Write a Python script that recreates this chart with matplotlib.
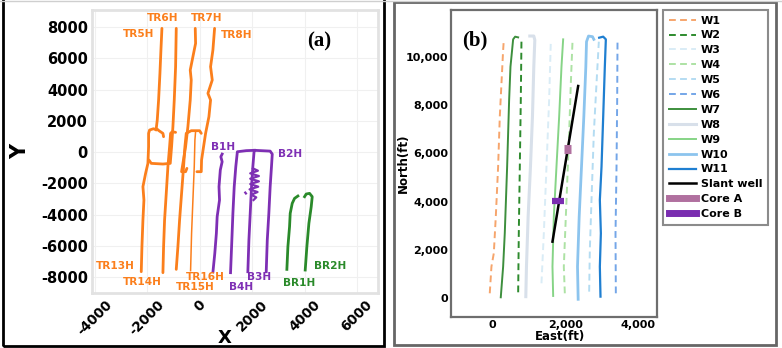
import matplotlib
matplotlib.use("Agg")
import matplotlib.pyplot as plt
from matplotlib.patches import Rectangle
from matplotlib.lines import Line2D

# ---------------- Panel (a) data ----------------
TR5H_x = [-1435, -1473, -1511, -1562, -1613, -1651, -1549, -1397, -1372]
TR5H_y = [7915, 6528, 5035, 3329, 2049, 1516, 1366, 1196, 982]
TR6H_x = [-889, -914, -965, -1016, -1067, -1118, -1397, -1842, -1930]
TR6H_y = [7915, 5462, 3329, 1622, 343, -724, -767, -724, -511]
TR7H_x = [-165, -152, -254, -356, -318, -356, -445, -533, -635, -686, -533, -483]
TR7H_y = [7915, 6955, 6102, 5248, 4608, 3329, 1622, 343, -724, -1257, -1257, -1044]
TR8H_x = [572, 508, 419, 483, 318, 419, 356, 229, 152, 76, 64, -102]
TR8H_y = [7915, 6528, 5462, 4608, 3755, 3329, 2262, 1196, 343, -511, -1257, -1257]
TR13H_x = [-2223, -2197, -2159, -2121, -2159, -2057, -1969, -1943, -1943, -1905, -1753, -1651]
TR13H_y = [-7656, -6057, -4350, -3070, -2217, -1364, -724, 343, 1196, 1409, 1494, 1409]
TR14H_x = [-1397, -1372, -1334, -1270, -1207, -1143, -1105, -1041, -914]
TR14H_y = [-7720, -6057, -4350, -2644, -937, 343, 1196, 1303, 1260]
TR15H_x = [-889, -826, -762, -686, -610, -559, -508, -318, 0, 64]
TR15H_y = [-7507, -6057, -4350, -2644, -937, 343, 1196, 1366, 1366, 1196]
TR16H_x = [-343, -305, -254, -203, -178, -152]
TR16H_y = [-7592, -5203, -3070, -937, 769, 1303]

B1H_x = [860, 810, 860, 790, 740, 760, 670, 640, 580, 510]
B1H_y = [-130, -300, -620, -1150, -2220, -3070, -4140, -5200, -6480, -7660]
B2H_x = [2540, 2580, 2640, 2690, 2740, 2770, 2690, 2100]
B2H_y = [-7660, -5630, -3920, -2220, -940, -130, 60, 110]
B3H_x = [1840, 1880, 1930, 1980, 2030, 2080]
B3H_y = [-7660, -5630, -3920, -2220, -940, 90]
B4H_x = [1180, 1230, 1270, 1320, 1380, 1440, 1780, 2100]
B4H_y = [-7720, -5630, -3920, -2220, -940, 20, 90, 110]
Bzig_x = [2032, 2223, 1930, 2261, 1930, 2261, 1930, 2235, 1905, 2210, 1969, 2159, 2057]
Bzig_y = [-1044, -1193, -1364, -1535, -1705, -1876, -2047, -2217, -2388, -2558, -2729, -2900, -3070]
Bstub_x = [1715, 1842]
Bstub_y = [-2537, -2814]

BR1H_x = [3327, 3366, 3429, 3454, 3531, 3620, 3747]
BR1H_y = [-7507, -6057, -4777, -3924, -3284, -2964, -2814]
BR2H_x = [4026, 4089, 4166, 4255, 4293, 4191, 4064, 4001]
BR2H_y = [-7550, -6057, -4564, -3497, -2857, -2644, -2686, -2857]

a_xticks = [-4000, -2000, 0, 2000, 4000, 6000]
a_yticks = [-8000, -6000, -4000, -2000, 0, 2000, 4000, 6000, 8000]

# ---------------- Panel (b) data ----------------
W1_x = [-83, -37, 28, 83, 147, 193, 239, 285, 303]
W1_y = [194, 1300, 1853, 3375, 5449, 7524, 8907, 10289, 10704]
W2_x = [789, 771, 744, 716, 698]
W2_y = [10635, 8215, 5449, 2683, 124]
W3_x = [1340, 1405, 1478, 1551, 1597]
W3_y = [609, 2683, 5449, 8215, 10635]
W4_x = [1983, 1955, 2029, 2102, 2148, 2194]
W4_y = [194, 1300, 4066, 6832, 8907, 10635]
W5_x = [2653, 2671, 2717, 2781, 2855, 2919]
W5_y = [263, 1991, 4066, 6832, 8907, 10635]
W6_x = [3387, 3378, 3406, 3424, 3433, 3387]
W6_y = [194, 2683, 5449, 8215, 10635, 10732]
W7_x = [220, 285, 330, 395, 450, 487, 532, 560, 615, 698]
W7_y = [28, 1300, 2683, 5449, 8215, 9598, 10289, 10732, 10843, 10815]
W8_x = [909, 927, 973, 1037, 1092, 1129, 1157, 1129, 1019]
W8_y = [55, 1300, 3375, 5449, 7524, 9598, 10704, 10870, 10870]
W9_x = [1662, 1643, 1680, 1753, 1827, 1891, 1937]
W9_y = [83, 1300, 3375, 5449, 7524, 9598, 10732]
W10_x = [2350, 2332, 2378, 2442, 2506, 2561, 2580, 2635, 2745, 2781]
W10_y = [-55, 1300, 3375, 5449, 7524, 9598, 10635, 10870, 10843, 10732]
W11_x = [2965, 2947, 2975, 2947, 2993, 3039, 3084, 3112, 3039, 2928]
W11_y = [55, 1300, 2683, 4066, 5449, 7524, 9598, 10732, 10843, 10801]
Slant_x = [1643, 2350]
Slant_y = [2337, 8796]
CoreA_x = [1955, 2166]
CoreA_y = [6180, 6180]
CoreB_x = [1634, 1955]
CoreB_y = [4025, 4025]

b_xticks = [0, 2000, 4000]
b_yticks = [0, 2000, 4000, 6000, 8000, 10000]

ORANGE = "#fb7f1c"
PURPLE = "#7e2fb4"
GREEN = "#2a8a2a"

fig = plt.figure(figsize=(7.82, 3.48), dpi=100)
W, H = 782.0, 348.0

# outer frames
fig.patches.append(Rectangle((2.5 / W, 2 / H), 381 / W, 350 / H, transform=fig.transFigure,
                             fill=False, edgecolor="black", linewidth=2.0))
fig.patches.append(Rectangle((393.5 / W, 3 / H), 382 / W, 343 / H, transform=fig.transFigure,
                             fill=False, edgecolor="#666666", linewidth=2.0))
fig.lines.append(Line2D([0, 1], [1 - 0.5 / H, 1 - 0.5 / H], transform=fig.transFigure,
                        color="#cfcfcf", lw=1))

# ---------------- Panel (a) ----------------
axa = fig.add_axes([92 / W, 1 - 293 / H, 286 / W, 283 / H])
axa.set_xlim(-4100, 6800)
axa.set_ylim(-9020, 9090)
for s in axa.spines.values():
    s.set_color("#e2e2e2")
    s.set_linewidth(2)
axa.grid(True, color="#f0f0f0", linewidth=0.8)
axa.set_axisbelow(True)
axa.set_xticks(a_xticks)
axa.set_yticks(a_yticks)
axa.tick_params(length=0, pad=3)
axa.set_xticklabels([str(v) for v in a_xticks], rotation=45, fontsize=9.8, fontweight="bold")
axa.set_yticklabels([str(v) for v in a_yticks], fontsize=10.5, fontweight="bold")

lw = 2.0
for xs, ys in [(TR5H_x, TR5H_y), (TR6H_x, TR6H_y), (TR7H_x, TR7H_y), (TR8H_x, TR8H_y),
               (TR13H_x, TR13H_y), (TR14H_x, TR14H_y), (TR15H_x, TR15H_y)]:
    axa.plot(xs, ys, color=ORANGE, lw=lw, solid_capstyle="round")
axa.plot(TR16H_x, TR16H_y, color=ORANGE, lw=1.1)
for xs, ys in [(B1H_x, B1H_y), (B2H_x, B2H_y), (B3H_x, B3H_y), (B4H_x, B4H_y)]:
    axa.plot(xs, ys, color=PURPLE, lw=lw)
axa.plot(Bzig_x, Bzig_y, color=PURPLE, lw=1.6)
axa.plot(Bstub_x, Bstub_y, color=PURPLE, lw=1.6, ls=(0, (1.5, 1)))
for xs, ys in [(BR1H_x, BR1H_y), (BR2H_x, BR2H_y)]:
    axa.plot(xs, ys, color=GREEN, lw=lw)

def figtext(px, py, s, color, size=7.6, **kw):
    fig.text(px / W, 1 - py / H, s, color=color, fontsize=size, fontweight="bold",
             ha="center", va="center", **kw)

figtext(163, 18, "TR6H", ORANGE)
figtext(207, 18, "TR7H", ORANGE)
figtext(139, 34, "TR5H", ORANGE)
figtext(237, 35, "TR8H", ORANGE)
figtext(115, 266, "TR13H", ORANGE)
figtext(142, 282, "TR14H", ORANGE)
figtext(205, 277.5, "TR16H", ORANGE)
figtext(195, 287, "TR15H", ORANGE)
figtext(223, 147, "B1H", PURPLE)
figtext(290, 154, "B2H", PURPLE)
figtext(259, 277.5, "B3H", PURPLE)
figtext(241, 287, "B4H", PURPLE)
figtext(299, 283, "BR1H", GREEN)
figtext(330, 266, "BR2H", GREEN)
fig.text(319 / W, 1 - 41 / H, "(a)", fontsize=15, fontweight="bold", family="Liberation Serif",
         ha="center", va="center")

axa.set_ylabel("Y", fontsize=15, fontweight="bold", rotation=90, va="center", ha="center")
axa.yaxis.set_label_coords(-0.252, 0.5)
axa.set_xlabel("X", fontsize=13, fontweight="bold", va="center", ha="center")
axa.xaxis.set_label_coords(0.465, -0.158)

# ---------------- Panel (b) ----------------
axb = fig.add_axes([451 / W, 1 - 317 / H, 206 / W, 307 / H])
axb.set_xlim(-1150, 4520)
axb.set_ylim(-790, 11950)
for s in axb.spines.values():
    s.set_color("#6e6e6e")
    s.set_linewidth(1.6)
axb.set_xticks(b_xticks)
axb.set_yticks(b_yticks)
axb.tick_params(length=0, pad=2)
axb.set_xticklabels([f"{v:,}" for v in b_xticks], fontsize=8, fontweight="bold")
axb.set_yticklabels([f"{v:,}" for v in b_yticks], fontsize=8, fontweight="bold")

dash = (0, (3.5, 2.2))
series = [
    ("W1", W1_x, W1_y, "#f6a56c", dash, 1.4),
    ("W2", W2_x, W2_y, "#2e8b2e", dash, 1.4),
    ("W3", W3_x, W3_y, "#d9ecf6", dash, 1.4),
    ("W4", W4_x, W4_y, "#ade2a4", dash, 1.4),
    ("W5", W5_x, W5_y, "#b4dcf2", dash, 1.4),
    ("W6", W6_x, W6_y, "#74a6e8", dash, 1.4),
    ("W7", W7_x, W7_y, "#3d8f3d", "-", 1.4),
    ("W8", W8_x, W8_y, "#d8e0ea", "-", 2.2),
    ("W9", W9_x, W9_y, "#86d486", "-", 1.4),
    ("W10", W10_x, W10_y, "#8cc4ee", "-", 2.0),
    ("W11", W11_x, W11_y, "#1f7fd1", "-", 1.6),
    ("Slant well", Slant_x, Slant_y, "black", "-", 1.8),
]
handles = []
for name, xs, ys, c, ls, w in series:
    ln, = axb.plot(xs, ys, color=c, ls=ls, lw=w, label=name)
    handles.append(ln)
axb.plot(CoreA_x, CoreA_y, color="#b0709f", lw=6.5, solid_capstyle="butt")
axb.plot(CoreB_x, CoreB_y, color="#7a2db0", lw=4.5, solid_capstyle="butt")
handles.append(Line2D([], [], color="#b0709f", lw=5, label="Core A"))
handles.append(Line2D([], [], color="#7a2db0", lw=5, label="Core B"))

leg = fig.legend(handles=handles, loc="upper left",
                 bbox_to_anchor=(663 / W, 1 - 10 / H), bbox_transform=fig.transFigure,
                 fontsize=8, frameon=True, fancybox=False, handlelength=2.5,
                 labelspacing=0.44, borderpad=0.5, handletextpad=0.4, borderaxespad=0)
leg.get_frame().set_edgecolor("#6e6e6e")
leg.get_frame().set_linewidth(1.5)
for t in leg.get_texts():
    t.set_fontweight("bold")

fig.text(475 / W, 1 - 40 / H, "(b)", fontsize=15, fontweight="bold", family="Liberation Serif",
         ha="center", va="center")

axb.set_ylabel("North(ft)", fontsize=8.5, fontweight="bold", va="center", ha="center")
axb.yaxis.set_label_coords(-0.233, 0.5)
axb.set_xlabel("East(ft)", fontsize=8.5, fontweight="bold", va="center", ha="center")
axb.xaxis.set_label_coords(0.53, -0.065)

fig.savefig("out.png", dpi=100)
